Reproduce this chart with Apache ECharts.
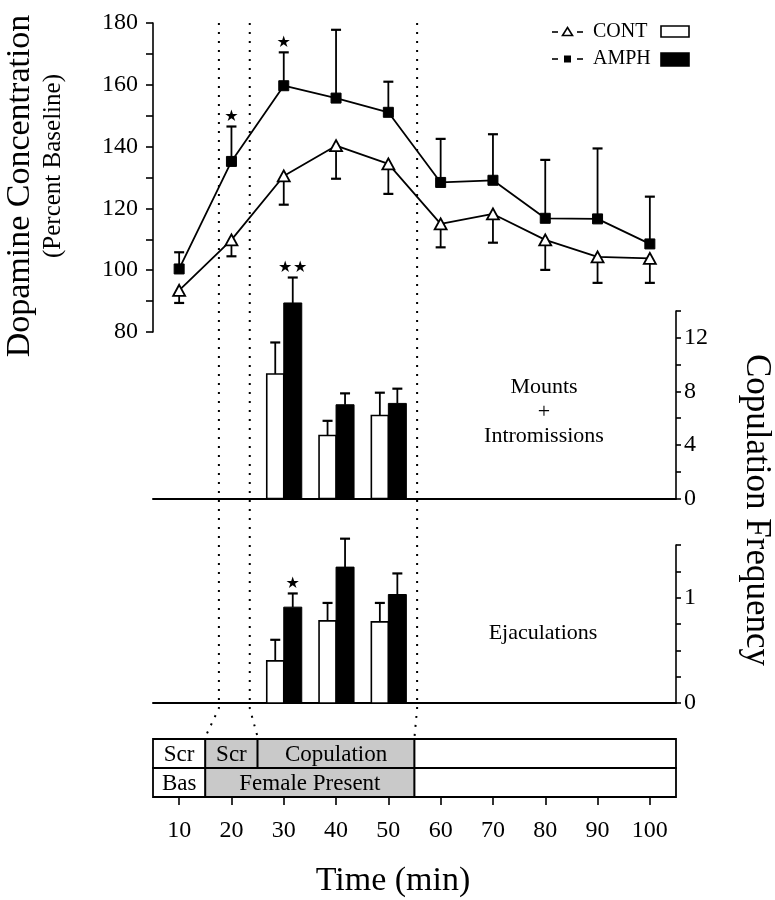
<!DOCTYPE html>
<html><head><meta charset="utf-8">
<script src="https://cdn.jsdelivr.net/npm/echarts@6/dist/echarts.min.js"></script>
<style>html,body{margin:0;padding:0;background:#fff}#c{width:775px;height:900px}</style>
</head><body><div id="c"></div>
<script>
// ---------- data ----------
const times = [10, 20, 30, 40, 50, 60, 70, 80, 90, 100];
const contMean = [93.5, 109.8, 130.5, 140.3, 134.4, 115.0, 118.2, 109.8, 104.3, 103.8];
const contSem = [4.1, 5.3, 9.3, 10.7, 9.7, 7.6, 9.3, 9.7, 8.4, 7.9];
const amphMean = [100.4, 135.2, 159.7, 155.7, 151.1, 128.4, 129.1, 116.8, 116.6, 108.5];
const amphSem = [5.4, 11.3, 10.8, 22.1, 9.9, 14.1, 14.9, 18.9, 22.8, 15.3];
const dopaStars = [0, 1, 1, 0, 0, 0, 0, 0, 0, 0];

const boutTimes = [30, 40, 50];
const contMounts = [9.3, 4.7, 6.2];
const contMountsSem = [2.35, 1.1, 1.7];
const amphMounts = [14.6, 7.0, 7.1];
const amphMountsSem = [1.9, 0.85, 1.1];
const mountStars = [2, 0, 0];

const contEjac = [0.40, 0.78, 0.77];
const contEjacSem = [0.20, 0.17, 0.18];
const amphEjac = [0.91, 1.29, 1.03];
const amphEjacSem = [0.13, 0.27, 0.20];
const ejacStars = [1, 0, 0];

const timeTicks = [10, 20, 30, 40, 50, 60, 70, 80, 90, 100];
const dopaLabelStep = 20;
const mountLabelStep = 4;
const ejacLabelStep = 1;

// phases: [start, end, label, shaded]
const phaseTop = [[5, 15, 'Scr', 0], [15, 25, 'Scr', 1], [25, 55, 'Copulation', 1], [55, 105, '', 0]];
const phaseBottom = [[5, 15, 'Bas', 0], [15, 55, 'Female Present', 1], [55, 105, '', 0]];
// dotted boundary lines: [time at top, time at phase box]
const dividers = [[17.6, 15], [23.5, 25], [55.5, 55]];

// ---------- styling ----------
const SERIF = "'Liberation Serif','Times New Roman',serif";
const BLACK = '#000';
const SHADE = '#c9c9c9';

const chart = echarts.init(document.getElementById('c'), null, {renderer: 'canvas'});

function stars(n, x, y) {
  const out = [];
  for (let k = 0; k < n; k++) {
    const dx = (k - (n - 1) / 2) * 15;
    out.push({type: 'text', x: x + dx, y: y,
      style: {text: '\u2605', fontSize: 16, fontFamily: 'DejaVu Sans', fill: BLACK, align: 'center', verticalAlign: 'middle'}});
  }
  return out;
}

function lineErr(dir) {
  return function (params, api) {
    const t = api.value(0), m = api.value(1), e = api.value(2), s = api.value(3);
    const p0 = api.coord([t, m]);
    const p1 = api.coord([t, m + dir * e]);
    const ch = [
      {type: 'line', shape: {x1: p0[0], y1: p0[1], x2: p1[0], y2: p1[1]}, style: {stroke: BLACK, lineWidth: 1.8}},
      {type: 'line', shape: {x1: p1[0] - 5, y1: p1[1], x2: p1[0] + 5, y2: p1[1]}, style: {stroke: BLACK, lineWidth: 2.2}}
    ];
    return {type: 'group', children: ch.concat(stars(s, p1[0], p1[1] - 10))};
  };
}

function barRender(params, api) {
  const t = api.value(0);
  const cv = api.value(1), ce = api.value(2), av = api.value(3), ae = api.value(4), s = api.value(5);
  const base = api.coord([t, 0]);
  const x = base[0], y0 = base[1];
  const cTop = api.coord([t, cv])[1], cErr = api.coord([t, cv + ce])[1];
  const aTop = api.coord([t, av])[1], aErr = api.coord([t, av + ae])[1];
  const wW = 17, bW = 18;
  const cx = x - wW / 2, ax = x + bW / 2;
  const ch = [
    {type: 'line', shape: {x1: cx, y1: cTop, x2: cx, y2: cErr}, style: {stroke: BLACK, lineWidth: 1.8}},
    {type: 'line', shape: {x1: cx - 5, y1: cErr, x2: cx + 5, y2: cErr}, style: {stroke: BLACK, lineWidth: 2.2}},
    {type: 'line', shape: {x1: ax, y1: aTop, x2: ax, y2: aErr}, style: {stroke: BLACK, lineWidth: 1.8}},
    {type: 'line', shape: {x1: ax - 5, y1: aErr, x2: ax + 5, y2: aErr}, style: {stroke: BLACK, lineWidth: 2.2}},
    {type: 'rect', shape: {x: x - wW, y: cTop, width: wW, height: y0 - cTop}, style: {fill: '#fff', stroke: BLACK, lineWidth: 1.6}},
    {type: 'rect', shape: {x: x, y: aTop, width: bW, height: y0 - aTop}, style: {fill: BLACK, stroke: BLACK, lineWidth: 1}}
  ];
  return {type: 'group', children: ch.concat(stars(s, ax, aErr - 10))};
}

const phases = phaseTop.map(d => ({d, row: 1})).concat(phaseBottom.map(d => ({d, row: 0})));
function phaseRender(params, api) {
  const p = phases[params.dataIndex];
  const a = api.coord([p.d[0], p.row + 1]);
  const b = api.coord([p.d[1], p.row]);
  const ch = [{type: 'rect', shape: {x: a[0], y: a[1], width: b[0] - a[0], height: b[1] - a[1]},
    style: {fill: p.d[3] ? SHADE : '#fff', stroke: BLACK, lineWidth: 1.8}}];
  if (p.d[2]) ch.push({type: 'text', x: (a[0] + b[0]) / 2, y: (a[1] + b[1]) / 2 + 1,
    style: {text: p.d[2], fontSize: 23, fontFamily: SERIF, fill: BLACK, align: 'center', verticalAlign: 'middle'}});
  return {type: 'group', children: ch};
}

const axisLbl = {fontSize: 24, fontFamily: SERIF, color: BLACK};
const tickStyle = {color: BLACK, width: 1.6};
const xBase = {type: 'value', min: 5, max: 105, splitLine: {show: false}};

const option = {
  animation: false,
  backgroundColor: '#fff',
  grid: [
    {left: 153, right: 99, top: 23, height: 309},
    {left: 153, right: 99, top: 311, height: 187.5},
    {left: 153, right: 99, top: 545, height: 158},
    {left: 153, right: 99, top: 739, height: 58}
  ],
  xAxis: [
    Object.assign({gridIndex: 0, show: false}, xBase),
    Object.assign({gridIndex: 1, axisLine: {lineStyle: {color: BLACK, width: 2}}, axisTick: {show: false}, axisLabel: {show: false}}, xBase),
    Object.assign({gridIndex: 2, axisLine: {lineStyle: {color: BLACK, width: 2}}, axisTick: {show: false}, axisLabel: {show: false}}, xBase),
    Object.assign({gridIndex: 3, axisLine: {show: false},
      axisTick: {show: true, customValues: timeTicks, length: 8, lineStyle: tickStyle},
      axisLabel: Object.assign({customValues: timeTicks, margin: 22}, axisLbl)}, xBase)
  ],
  yAxis: [
    {gridIndex: 0, type: 'value', position: 'left', min: 80, max: 180, interval: 10,
      axisLine: {show: true, lineStyle: {color: BLACK, width: 1.6}},
      axisTick: {show: true, length: 7, lineStyle: tickStyle}, splitLine: {show: false},
      axisLabel: Object.assign({margin: 15, formatter: v => (v % dopaLabelStep === 0 ? String(v) : '')}, axisLbl)},
    {gridIndex: 1, type: 'value', position: 'right', min: 0, max: 14, interval: 2,
      axisLine: {show: true, lineStyle: {color: BLACK, width: 1.6}},
      axisTick: {show: true, length: 5, lineStyle: tickStyle}, splitLine: {show: false},
      axisLabel: Object.assign({margin: 8, formatter: v => (v % mountLabelStep === 0 ? String(v) : '')}, axisLbl)},
    {gridIndex: 2, type: 'value', position: 'right', min: 0, max: 1.5, interval: 0.25,
      axisLine: {show: true, lineStyle: {color: BLACK, width: 1.6}},
      axisTick: {show: true, length: 5, lineStyle: tickStyle}, splitLine: {show: false},
      axisLabel: Object.assign({margin: 8, formatter: v => (Math.abs(v % ejacLabelStep) < 1e-9 ? String(v) : '')}, axisLbl)},
    {gridIndex: 3, type: 'value', min: 0, max: 2, show: false}
  ],
  series: [
    {type: 'custom', name: 'contErr', xAxisIndex: 0, yAxisIndex: 0, z: 2,
      data: times.map((t, i) => [t, contMean[i], contSem[i], 0]), renderItem: lineErr(-1)},
    {type: 'custom', name: 'amphErr', xAxisIndex: 0, yAxisIndex: 0, z: 2,
      data: times.map((t, i) => [t, amphMean[i], amphSem[i], dopaStars[i]]), renderItem: lineErr(1)},
    {type: 'line', name: 'CONT', xAxisIndex: 0, yAxisIndex: 0, z: 3,
      data: times.map((t, i) => [t, contMean[i]]),
      symbol: 'triangle', symbolSize: [12, 11], showSymbol: true,
      lineStyle: {color: BLACK, width: 1.8},
      itemStyle: {color: '#fff', borderColor: BLACK, borderWidth: 1.8}},
    {type: 'line', name: 'AMPH', xAxisIndex: 0, yAxisIndex: 0, z: 3,
      data: times.map((t, i) => [t, amphMean[i]]),
      symbol: 'rect', symbolSize: 10, showSymbol: true,
      lineStyle: {color: BLACK, width: 1.8},
      itemStyle: {color: BLACK, borderColor: BLACK, borderWidth: 1}},
    {type: 'custom', name: 'mounts', xAxisIndex: 1, yAxisIndex: 1, clip: false,
      data: boutTimes.map((t, i) => [t, contMounts[i], contMountsSem[i], amphMounts[i], amphMountsSem[i], mountStars[i]]),
      renderItem: barRender},
    {type: 'custom', name: 'ejac', xAxisIndex: 2, yAxisIndex: 2, clip: false,
      data: boutTimes.map((t, i) => [t, contEjac[i], contEjacSem[i], amphEjac[i], amphEjacSem[i], ejacStars[i]]),
      renderItem: barRender},
    {type: 'custom', name: 'phases', xAxisIndex: 3, yAxisIndex: 3, clip: false,
      data: phases.map(p => [p.d[0], p.row]), renderItem: phaseRender}
  ]
};
chart.setOption(option);

// ---------- annotations (positions derived from the chart scales) ----------
const gfx = [];
const yTop = chart.convertToPixel({yAxisIndex: 0}, 180);
const yBend = chart.convertToPixel({yAxisIndex: 2}, -0.05);
const yBox = chart.convertToPixel({yAxisIndex: 3}, 2) - 2;
dividers.forEach(d => {
  const xt = chart.convertToPixel({xAxisIndex: 0}, d[0]);
  const xb = chart.convertToPixel({xAxisIndex: 3}, d[1]);
  gfx.push({type: 'polyline', z: 0, silent: true,
    shape: {points: [[xt, yTop], [xt, yBend], [xb, yBox]]},
    style: {stroke: BLACK, lineWidth: 2, lineDash: [2, 7], fill: null}});
});

function txt(text, x, y, size, rot, extra) {
  return Object.assign({type: 'text', x, y, rotation: rot || 0, z: 10,
    style: {text, fontSize: size, fontFamily: SERIF, fill: BLACK, align: 'center', verticalAlign: 'middle'}}, extra || {});
}
gfx.push(txt('Dopamine Concentration', 20, 186, 34, Math.PI / 2));
gfx.push(txt('(Percent Baseline)', 53, 166, 25, Math.PI / 2));
gfx.push(txt('Copulation Frequency', 756, 510, 35, -Math.PI / 2));
gfx.push({type: 'text', x: 544, y: 412, z: 10,
  style: {text: 'Mounts\n+\nIntromissions', fontSize: 22, lineHeight: 24.5, fontFamily: SERIF, fill: BLACK, align: 'center', verticalAlign: 'middle'}});
gfx.push(txt('Ejaculations', 543, 633, 22));
gfx.push(txt('Time (min)', 393, 881, 34));

// legend
function legendRow(y, isCont, label) {
  gfx.push({type: 'line', shape: {x1: 552, y1: y, x2: 558, y2: y}, style: {stroke: BLACK, lineWidth: 1.6}});
  gfx.push({type: 'line', shape: {x1: 577, y1: y, x2: 583, y2: y}, style: {stroke: BLACK, lineWidth: 1.6}});
  if (isCont) {
    gfx.push({type: 'polygon', shape: {points: [[567.5, y - 4.5], [572.5, y + 3.5], [562.5, y + 3.5]]},
      style: {fill: '#fff', stroke: BLACK, lineWidth: 1.6}});
  } else {
    gfx.push({type: 'rect', shape: {x: 564, y: y - 3.5, width: 7, height: 7}, style: {fill: BLACK}});
  }
  gfx.push({type: 'text', x: 593, y: y, style: {text: label, fontSize: 20, fontFamily: SERIF, fill: BLACK, align: 'left', verticalAlign: 'middle'}});
  gfx.push({type: 'rect', shape: {x: 661, y: y - 6, width: 28, height: isCont ? 11 : 13},
    style: {fill: isCont ? '#fff' : BLACK, stroke: BLACK, lineWidth: 1.6}});
}
legendRow(32, true, 'CONT');
legendRow(59, false, 'AMPH');

chart.setOption({graphic: gfx});
</script>
</body></html>
